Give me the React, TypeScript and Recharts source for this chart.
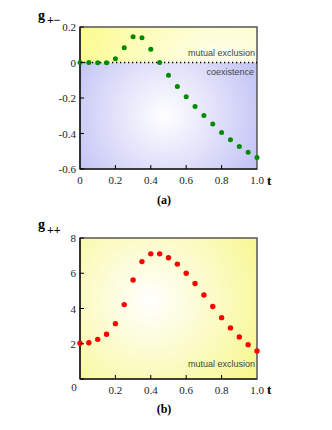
import React from 'react';
import { ScatterChart, Scatter, XAxis, YAxis, ReferenceArea, ReferenceLine } from 'recharts';

// t from 0 to 1 in steps of 0.05
const tValues = [0, 0.05, 0.1, 0.15, 0.2, 0.25, 0.3, 0.35, 0.4, 0.45, 0.5, 0.55, 0.6, 0.65, 0.7, 0.75, 0.8, 0.85, 0.9, 0.95, 1.0];
const gPlusMinus = [0, 0, -0.002, -0.002, 0.021, 0.083, 0.145, 0.139, 0.075, 0, -0.072, -0.135, -0.193, -0.248, -0.298, -0.347, -0.394, -0.435, -0.473, -0.505, -0.535];
const gPlusPlus = [2.03, 2.06, 2.25, 2.54, 3.14, 4.22, 5.62, 6.66, 7.1, 7.1, 6.88, 6.52, 6.0, 5.42, 4.77, 4.11, 3.48, 2.9, 2.39, 1.95, 1.59];

const xTicks = [0, 0.2, 0.4, 0.6, 0.8, 1.0];
const yTicksA = [-0.6, -0.4, -0.2, 0, 0.2];
const yTicksB = [0, 2, 4, 6, 8];

const dataA = tValues.map((t, i) => ({ t, g: gPlusMinus[i] }));
const dataB = tValues.map((t, i) => ({ t, g: gPlusPlus[i] }));

const serif = { fontFamily: "'Liberation Serif', 'Times New Roman', serif" };
const sans = { fontFamily: "'Liberation Sans', Arial, sans-serif" };

const fmtX = (v: number) => (v === 0 ? '0' : v.toFixed(1));
const fmtY = (v: number) => (v === 0 ? '0' : String(Math.round(v * 10) / 10));

// ticks point inward, labels sit outside
const XTick = ({ x, y, payload, zeroCorner }: any) => {
  const axisY = y - 6;
  const v = payload.value;
  return (
    <g>
      {v > 0 && v < 1 && <line x1={x} x2={x} y1={axisY} y2={axisY - 4} stroke="#000" strokeWidth={1} />}
      <text
        x={zeroCorner && v === 0 ? x - 6 : x}
        y={zeroCorner && v === 0 ? y + 6 : y + 9}
        textAnchor="middle"
        style={serif}
        fontSize={11}
        fill="#222"
      >
        {fmtX(v)}
      </text>
    </g>
  );
};

const YTick = ({ x, y, payload, hideZero }: any) => {
  const axisX = x + 4;
  const v = payload.value;
  return (
    <g>
      <line x1={axisX} x2={axisX + 4} y1={y} y2={y} stroke="#000" strokeWidth={1} />
      {!(hideZero && v === 0) && (
        <text x={x} y={y + 4} textAnchor="end" style={serif} fontSize={11} fill="#222">
          {fmtY(v)}
        </text>
      )}
    </g>
  );
};

export default function App() {
  return (
    <div style={{ position: 'absolute', left: 0, top: 0, width: 332, height: 430, background: '#fff' }}>
      <svg width={0} height={0} style={{ position: 'absolute' }}>
        <defs>
          <radialGradient id="yellowA" gradientUnits="userSpaceOnUse" cx={225} cy={85} r={155}>
            <stop offset="0%" stopColor="#ffffff" />
            <stop offset="100%" stopColor="#fbfb8e" />
          </radialGradient>
          <radialGradient id="blueA" gradientUnits="userSpaceOnUse" cx={165} cy={115} r={125}>
            <stop offset="0%" stopColor="#ffffff" />
            <stop offset="100%" stopColor="#b6b6f4" />
          </radialGradient>
          <radialGradient id="yellowB" gradientUnits="userSpaceOnUse" cx={150} cy={100} r={150}>
            <stop offset="0%" stopColor="#ffffff" />
            <stop offset="100%" stopColor="#f6f67c" />
          </radialGradient>
        </defs>
      </svg>

      <div style={{ position: 'absolute', left: 0, top: 0 }}>
        <ScatterChart width={332} height={200} margin={{ top: 27, right: 75, bottom: 11, left: 40 }}>
          <XAxis
            type="number"
            dataKey="t"
            domain={[0, 1]}
            ticks={xTicks}
            height={20}
            tickSize={0}
            tickMargin={6}
            axisLine={{ stroke: '#000', strokeWidth: 1.2 }}
            tick={<XTick />}
            interval={0}
          />
          <YAxis
            type="number"
            dataKey="g"
            domain={[-0.6, 0.2]}
            ticks={yTicksA}
            width={40}
            tickSize={0}
            tickMargin={4}
            axisLine={{ stroke: '#000', strokeWidth: 1.2 }}
            tick={<YTick />}
            interval={0}
          />
          <ReferenceArea x1={0} x2={1} y1={0} y2={0.2} fill="url(#yellowA)" fillOpacity={1} stroke="none" />
          <ReferenceArea x1={0} x2={1} y1={-0.6} y2={0} fill="url(#blueA)" fillOpacity={1} stroke="none" />
          <ReferenceArea x1={0} x2={1} y1={-0.6} y2={0.2} fill="none" stroke="#555" strokeWidth={1.5} />
          <ReferenceLine y={0} stroke="#000" strokeWidth={1.3} strokeDasharray="1.3 2.7" />
          <Scatter
            data={dataA}
            isAnimationActive={false}
            shape={(p: any) => <circle cx={p.cx} cy={p.cy} r={2.5} fill="#008a00" />}
          />
        </ScatterChart>
      </div>

      <div style={{ position: 'absolute', left: 0, top: 200 }}>
        <ScatterChart width={332} height={230} margin={{ top: 38, right: 75, bottom: 31, left: 40 }}>
          <XAxis
            type="number"
            dataKey="t"
            domain={[0, 1]}
            ticks={xTicks}
            height={20}
            tickSize={0}
            tickMargin={6}
            axisLine={{ stroke: '#000', strokeWidth: 1.2 }}
            tick={<XTick zeroCorner />}
            interval={0}
          />
          <YAxis
            type="number"
            dataKey="g"
            domain={[0, 8]}
            ticks={yTicksB}
            width={40}
            tickSize={0}
            tickMargin={4}
            axisLine={{ stroke: '#000', strokeWidth: 1.2 }}
            tick={<YTick hideZero />}
            interval={0}
          />
          <ReferenceArea x1={0} x2={1} y1={0} y2={8} fill="url(#yellowB)" fillOpacity={1} stroke="#555" strokeWidth={1.5} />
          <Scatter
            data={dataB}
            isAnimationActive={false}
            shape={(p: any) => <circle cx={p.cx} cy={p.cy} r={2.7} fill="#ff0000" />}
          />
        </ScatterChart>
      </div>

      <svg width={332} height={430} style={{ position: 'absolute', left: 0, top: 0, pointerEvents: 'none' }}>
        <text x={38} y={20} style={serif} fontWeight="bold" fontSize={14} fill="#000">g</text>
        <text x={47} y={24} style={serif} fontWeight="bold" fontSize={12} fill="#000">+−</text>
        <text x={38} y={229} style={serif} fontWeight="bold" fontSize={14} fill="#000">g</text>
        <text x={47} y={234} style={serif} fontWeight="bold" fontSize={12} fill="#000">++</text>

        <text x={255} y={56} textAnchor="end" style={sans} fontSize={9} fill="#444">mutual exclusion</text>
        <text x={254} y={75} textAnchor="end" style={sans} fontSize={9} fill="#444">coexistence</text>
        <text x={255} y={367} textAnchor="end" style={sans} fontSize={9} fill="#444">mutual exclusion</text>

        <text x={267} y={185} style={serif} fontWeight="bold" fontSize={13} fill="#000">t</text>
        <text x={267} y={394} style={serif} fontWeight="bold" fontSize={13} fill="#000">t</text>

        <text x={164} y={204} textAnchor="middle" style={serif} fontWeight="bold" fontSize={12} fill="#000">(a)</text>
        <text x={164} y={413} textAnchor="middle" style={serif} fontWeight="bold" fontSize={12} fill="#000">(b)</text>
      </svg>
    </div>
  );
}
